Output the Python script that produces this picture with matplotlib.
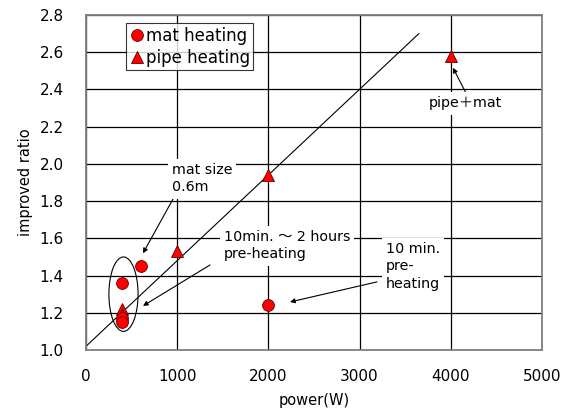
import matplotlib
matplotlib.use("Agg")
import matplotlib.pyplot as plt
from matplotlib.patches import Ellipse

plt.rcParams['font.family'] = ['DejaVu Sans', 'Noto Sans CJK JP']

# data
mat_power = [400, 400, 400, 600, 2000]
mat_ratio = [1.36, 1.17, 1.15, 1.45, 1.24]
pipe_power = [400, 400, 1000, 2000, 4000]
pipe_ratio = [1.22, 1.19, 1.53, 1.94, 2.58]
fit_x = [0, 3650]
fit_y = [1.02, 2.70]
x_ticks = [0, 1000, 2000, 3000, 4000, 5000]
y_ticks = [1.0, 1.2, 1.4, 1.6, 1.8, 2.0, 2.2, 2.4, 2.6, 2.8]

fig = plt.figure(figsize=(5.7, 4.19), dpi=100)
ax = fig.add_axes([86/570, 69/419, 456/570, 335/419])

ax.set_xlim(0, 5000)
ax.set_ylim(1.0, 2.8)
ax.set_xticks(x_ticks)
ax.set_yticks(y_ticks)
ax.set_yticklabels(['%.1f' % v for v in y_ticks])
ax.tick_params(length=0, labelsize=11)
ax.tick_params(axis='x', pad=14)
ax.tick_params(axis='y', pad=16)
ax.grid(True, color='black', linewidth=0.9)
ax.set_axisbelow(True)
for s in ax.spines.values():
    s.set_color('#808080')
    s.set_linewidth(1.3)

ax.plot(fit_x, fit_y, color='black', linewidth=0.8, zorder=2)

ax.plot(pipe_power, pipe_ratio, '^', color='red', markeredgecolor='#600000',
        markeredgewidth=0.6, markersize=9, linestyle='none', label='pipe heating', zorder=4)
ax.plot(mat_power, mat_ratio, 'o', color='red', markeredgecolor='#600000',
        markeredgewidth=0.6, markersize=8.5, linestyle='none', label='mat heating', zorder=5)

ell = Ellipse((411, 1.30), 320, 0.40, fill=False, edgecolor='black', linewidth=0.8, zorder=3)
ax.add_patch(ell)

handles, labels = ax.get_legend_handles_labels()
leg = ax.legend(handles[::-1], labels[::-1], loc='upper left', bbox_to_anchor=(0.087, 0.975),
                fontsize=12, frameon=True, fancybox=False, handletextpad=0.0,
                handlelength=1.0, borderpad=0.2, labelspacing=0.25, borderaxespad=0,
                markerscale=1.0)
leg.get_frame().set_edgecolor('black')
leg.get_frame().set_linewidth(0.8)

box = dict(facecolor='white', edgecolor='none', pad=3)
arrow = dict(arrowstyle='-|>', color='black', lw=0.8, mutation_scale=7, shrinkA=0, shrinkB=0)
fs = 10.3

ax.annotate('', xy=(625, 1.52), xytext=(998, 1.85), arrowprops=arrow, zorder=6)
ax.text(940, 1.92, 'mat size\n0.6m', fontsize=fs, bbox=box, va='center', ha='left', zorder=7,
        linespacing=1.3)

ax.annotate('', xy=(625, 1.237), xytext=(1360, 1.457), arrowprops=arrow, zorder=6)
ax.text(1510, 1.56, '10min. ～ 2 hours\npre-heating', fontsize=fs, bbox=box, va='center',
        ha='left', zorder=7, linespacing=1.3)

ax.annotate('', xy=(2237, 1.258), xytext=(3191, 1.366), arrowprops=arrow, zorder=6)
ax.text(3290, 1.45, '10 min.\npre-\nheating', fontsize=fs, bbox=box, va='center',
        ha='left', zorder=7, linespacing=1.3)

ax.annotate('', xy=(4024, 2.516), xytext=(4167, 2.38), arrowprops=arrow, zorder=6)
ax.text(4160, 2.325, 'pipe＋mat', fontsize=fs, bbox=box, va='center', ha='center', zorder=7)

ax.set_xlabel('power(W)', fontsize=10.5, labelpad=6)
ax.set_ylabel('improved ratio', fontsize=10.5, labelpad=5)

fig.savefig('out.png', dpi=100)
